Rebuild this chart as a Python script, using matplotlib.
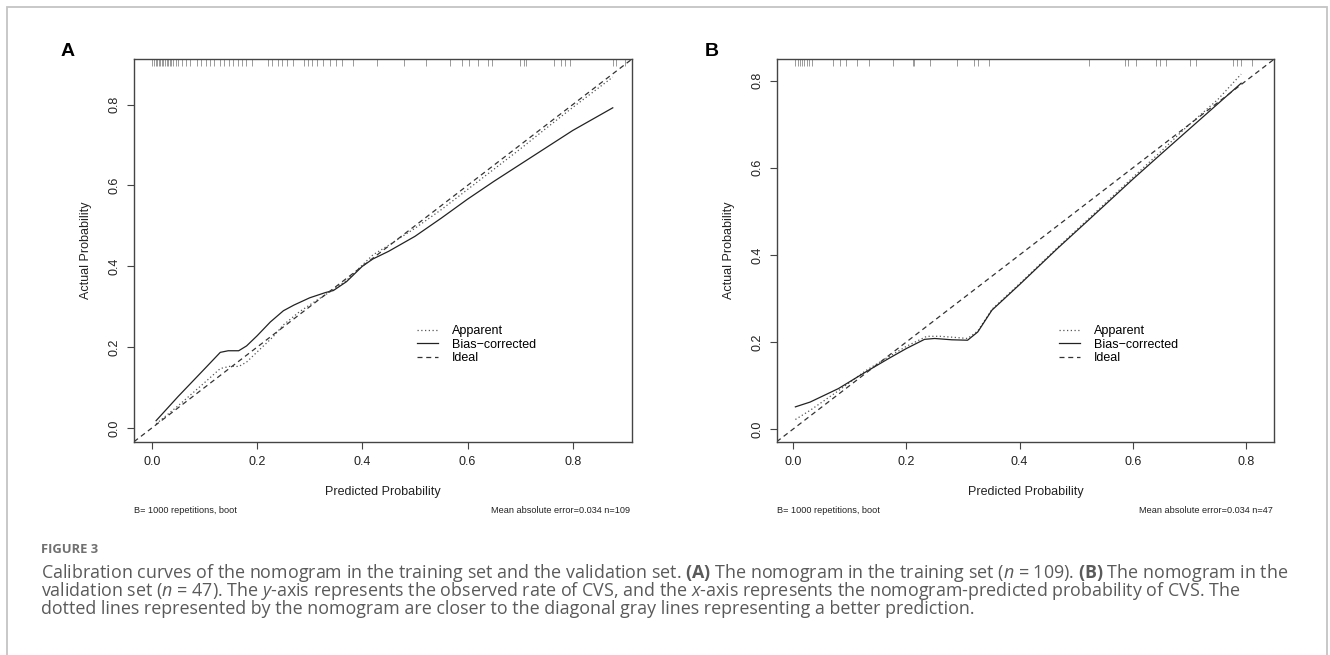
import numpy as np
import matplotlib
matplotlib.use("Agg")
import matplotlib.pyplot as plt
from matplotlib.patches import Rectangle

plt.rcParams['font.family'] = ['Liberation Sans', 'DejaVu Sans']
plt.rcParams['mathtext.fontset'] = 'custom'   #caption uses bold/italic pieces through mathtext
plt.rcParams['mathtext.rm'] = 'Open Sans'
plt.rcParams['mathtext.it'] = 'Open Sans:italic'
plt.rcParams['mathtext.bf'] = 'Open Sans:bold'

# ---------------- panel A : training set (n=109)
rug_A = [0.000, 0.004, 0.008, 0.010, 0.013, 0.016, 0.019, 0.022, 0.025, 0.028, 0.031, 0.034, 0.037, 0.041, 0.045,
         0.049, 0.057, 0.065, 0.073, 0.085, 0.094, 0.102, 0.110, 0.118, 0.130, 0.138, 0.146, 0.155, 0.163, 0.171,
         0.179, 0.191, 0.220, 0.228, 0.240, 0.248, 0.256, 0.269, 0.289, 0.297, 0.305, 0.313, 0.326, 0.338, 0.350,
         0.362, 0.383, 0.427, 0.480, 0.521, 0.566, 0.590, 0.602, 0.619, 0.639, 0.647, 0.700, 0.708, 0.712, 0.765,
         0.777, 0.786, 0.794, 0.877, 0.883, 0.899]

app_x_A = [0.008, 0.05, 0.10, 0.13, 0.15, 0.165, 0.18, 0.20, 0.23, 0.25, 0.28, 0.31, 0.34, 0.37, 0.40, 0.42, 0.45,
           0.50, 0.55, 0.60, 0.65, 0.70, 0.75, 0.80, 0.876]
app_y_A = [0.010, 0.055, 0.112, 0.147, 0.153, 0.152, 0.163, 0.188, 0.225, 0.255, 0.287, 0.313, 0.338, 0.365, 0.403,
           0.428, 0.452, 0.494, 0.540, 0.590, 0.640, 0.690, 0.742, 0.793, 0.868]

bias_x_A = [0.008, 0.05, 0.10, 0.13, 0.145, 0.165, 0.18, 0.20, 0.225, 0.25, 0.27, 0.30, 0.33, 0.345, 0.37, 0.40, 0.42,
            0.45, 0.50, 0.55, 0.60, 0.65, 0.70, 0.75, 0.80, 0.876]
bias_y_A = [0.018, 0.078, 0.146, 0.187, 0.191, 0.191, 0.203, 0.228, 0.262, 0.290, 0.304, 0.322, 0.335, 0.340, 0.362,
            0.400, 0.418, 0.437, 0.474, 0.519, 0.566, 0.610, 0.652, 0.694, 0.736, 0.792]

# ---------------- panel B : validation set (n=47)
rug_B = [0.004, 0.008, 0.012, 0.016, 0.020, 0.024, 0.028, 0.033, 0.070, 0.082, 0.093, 0.112, 0.134, 0.176, 0.211,
         0.214, 0.242, 0.289, 0.319, 0.327, 0.346, 0.522, 0.586, 0.591, 0.606, 0.640, 0.648, 0.659, 0.701, 0.712,
         0.776, 0.784, 0.791, 0.810]

app_x_B = [0.004, 0.03, 0.08, 0.128, 0.17, 0.20, 0.236, 0.26, 0.29, 0.308, 0.326, 0.351, 0.40, 0.467, 0.52, 0.60,
           0.65, 0.69, 0.75, 0.791]
app_y_B = [0.022, 0.043, 0.088, 0.134, 0.167, 0.190, 0.213, 0.213, 0.210, 0.208, 0.225, 0.275, 0.334, 0.417, 0.481,
           0.578, 0.638, 0.688, 0.757, 0.815]

bias_x_B = [0.004, 0.03, 0.08, 0.128, 0.17, 0.20, 0.232, 0.25, 0.28, 0.308, 0.326, 0.351, 0.40, 0.467, 0.52, 0.60,
            0.65, 0.69, 0.75, 0.791]
bias_y_B = [0.051, 0.062, 0.093, 0.131, 0.163, 0.185, 0.206, 0.208, 0.205, 0.204, 0.223, 0.273, 0.332, 0.415, 0.478,
            0.574, 0.632, 0.678, 0.747, 0.794]

ticks = [0.0, 0.2, 0.4, 0.6, 0.8]
legend_labels = ["Apparent", "Bias\u2212corrected", "Ideal"]
footnote_left = "B= 1000 repetitions, boot"
footnote_right_A = "Mean absolute error=0.034 n=109"
footnote_right_B = "Mean absolute error=0.034 n=47"

caption_lines = [
    r"Calibration curves of the nomogram in the training set and the validation set. $\mathbf{(A)}$ The nomogram in the training set ($\mathit{n}$ = 109). $\mathbf{(B)}$ The nomogram in the",
    r"validation set ($\mathit{n}$ = 47). The $\mathit{y}$-axis represents the observed rate of CVS, and the $\mathit{x}$-axis represents the nomogram-predicted probability of CVS. The",
    r"dotted lines represented by the nomogram are closer to the diagonal gray lines representing a better prediction.",
]

W, H = 1330, 655
fig = plt.figure(figsize=(W/100, H/100), dpi=100)
fig.patches.append(Rectangle((6.7/W, -0.05), (1327-6.7)/W, 1.05 - 6.7/H, transform=fig.transFigure,
                             fill=False, edgecolor='#c4c4c4', lw=1.3))   #outer frame of the figure

axA = fig.add_axes([134/W, 1 - 441.7/H, (631.7-134)/W, (441.7-59.3)/H])
axB = fig.add_axes([776.7/W, 1 - 441.7/H, (1274-776.7)/W, (441.7-59.3)/H])


def draw_panel(ax, rug, app_x, app_y, bias_x, bias_y, lims, foot_right):
    ax.vlines(rug, 0.982, 1.0, transform=ax.get_xaxis_transform(), color='#8a8a8a', lw=0.6)
    l1, = ax.plot(app_x, app_y, color='#555555', lw=0.9, dashes=(1, 2))
    l2, = ax.plot(bias_x, bias_y, color='#222222', lw=0.9)
    l3 = ax.axline((0, 0), slope=1, color='#333333', lw=0.9, dashes=(4, 3))
    ax.set_xlim(lims)
    ax.set_ylim(lims)
    ax.set_xticks(ticks)
    ax.set_yticks(ticks)
    ax.set_xticklabels(["%.1f" % t for t in ticks])
    ax.set_yticklabels(["%.1f" % t for t in ticks])
    ax.tick_params(direction='out', length=5, width=0.8, color='#444444', labelsize=9, labelcolor='#222222')
    ax.tick_params(axis='x', pad=5.5)
    ax.tick_params(axis='y', pad=4.5, labelrotation=90)
    for lab in ax.get_yticklabels():
        lab.set_va('center')
    for sp in ax.spines.values():
        sp.set_color('#444444')
        sp.set_linewidth(1.0)
    ax.set_xlabel("Predicted Probability", fontsize=9, labelpad=13, color='#222222')
    ax.set_ylabel("Actual Probability", fontsize=9, labelpad=12, color='#222222')
    ax.legend([l1, l2, l3], legend_labels, loc='center left', bbox_to_anchor=(0.568, 0.2537), frameon=False,
              fontsize=9, handlelength=1.7, handletextpad=1.1, labelspacing=0.12, borderpad=0, borderaxespad=0)
    ax.text(0.0, -0.18, footnote_left, transform=ax.transAxes, ha='left', va='center', fontsize=6.6, color='#222222')
    ax.text(0.997, -0.18, foot_right, transform=ax.transAxes, ha='right', va='center', fontsize=6.6, color='#222222')


draw_panel(axA, rug_A, app_x_A, app_y_A, bias_x_A, bias_y_A, (-0.034, 0.912), footnote_right_A)
draw_panel(axB, rug_B, app_x_B, app_y_B, bias_x_B, bias_y_B, (-0.029, 0.849), footnote_right_B)

fig.text(68/W, 1 - 52/H, "A", fontsize=14, fontweight='bold', ha='center', va='center')
fig.text(712/W, 1 - 52/H, "B", fontsize=14, fontweight='bold', ha='center', va='center')

fig.text(40.7/W, 1 - 552.7/H, "FIGURE 3", family=['Open Sans', 'DejaVu Sans'], fontsize=9.4, fontweight='bold',
         color='#707070', ha='left', va='baseline')
for i, line in enumerate(caption_lines):
    fig.text(40.7/W, 1 - (577.7 + 18.3*i)/H, line, family=['Open Sans', 'DejaVu Sans'], fontsize=12.9, color='#5a5a5a',
             ha='left', va='baseline')

plt.savefig("out.png", dpi=100)
